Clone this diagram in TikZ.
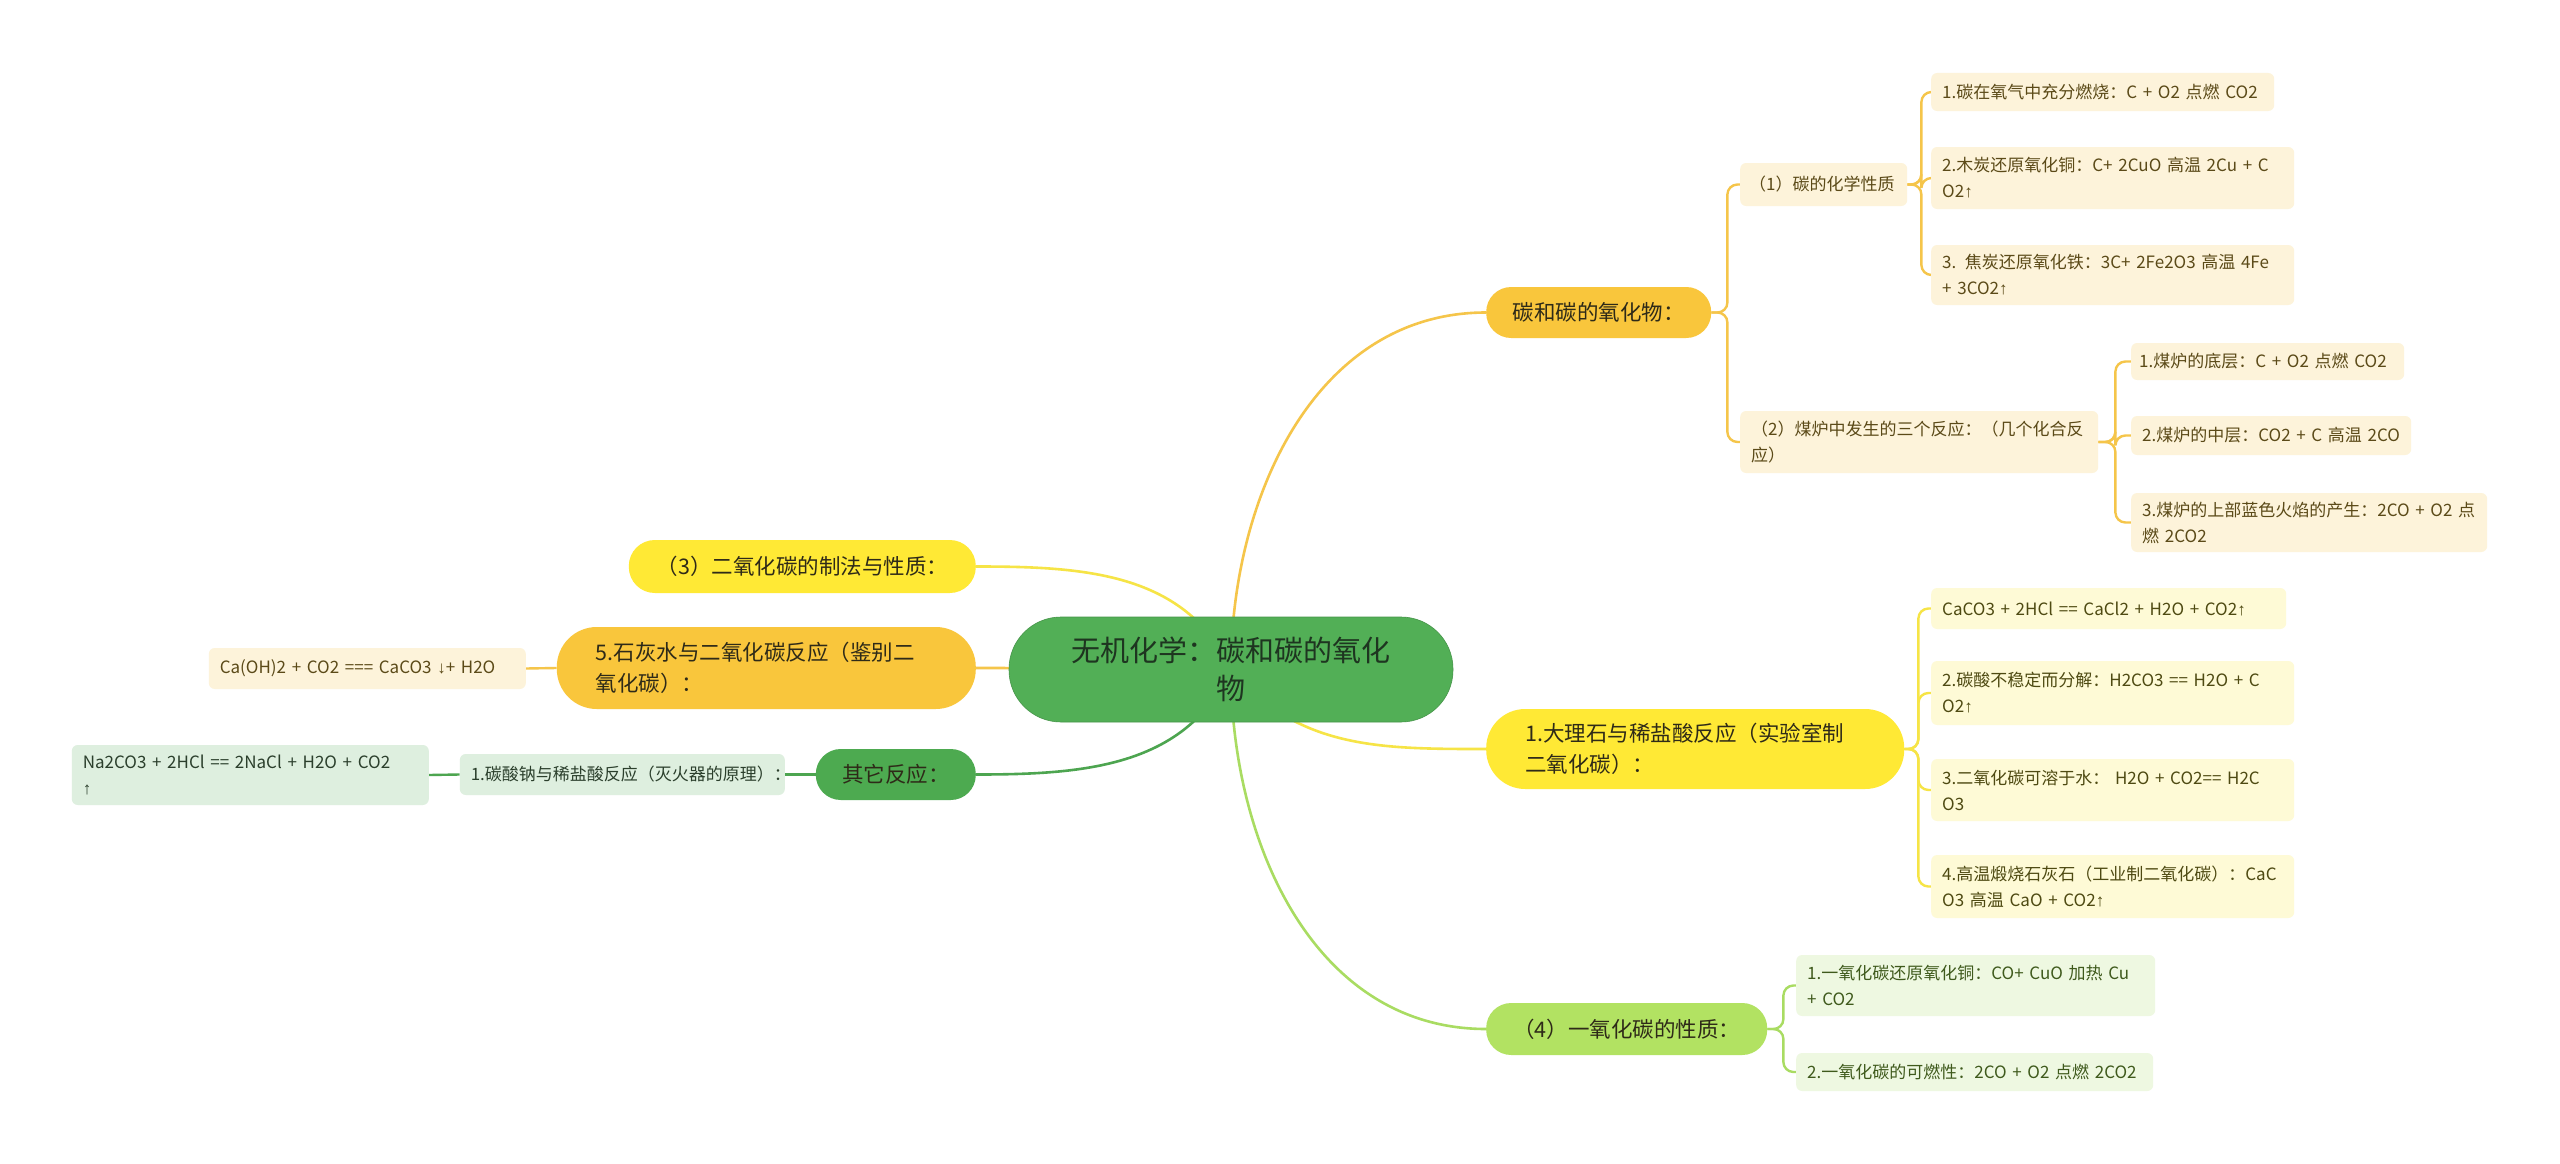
\documentclass[tikz,border=0pt]{standalone}
\usepackage{fontspec}
\setmainfont{Noto Sans CJK SC}
\newfontfamily\arrfont{Liberation Sans}
\newcommand{\upar}{{\arrfont ↑}}
\newcommand{\dnar}{{\arrfont ↓}}
\usetikzlibrary{backgrounds}
\definecolor{cOr}{HTML}{F9C63C}
\definecolor{lOr}{HTML}{F5C54A}
\definecolor{fOr}{HTML}{FDF3DA}
\definecolor{tOr}{HTML}{5B4A18}
\definecolor{cYe}{HTML}{FFE935}
\definecolor{lYe}{HTML}{F6E446}
\definecolor{fYe}{HTML}{FEFAD6}
\definecolor{tYe}{HTML}{4E4A12}
\definecolor{cLg}{HTML}{B2E262}
\definecolor{lLg}{HTML}{A9DC62}
\definecolor{fLg}{HTML}{EEF8E1}
\definecolor{tLg}{HTML}{3F5A1C}
\definecolor{cDg}{HTML}{4DAA50}
\definecolor{lDg}{HTML}{4DA550}
\definecolor{fDg}{HTML}{DEEFDF}
\definecolor{tDg}{HTML}{2B3F2C}
\definecolor{cCe}{HTML}{52AF56}
\definecolor{tCe}{HTML}{1E3520}
\definecolor{tMain}{HTML}{2E2A18}
\begin{document}
\begin{tikzpicture}[x=1pt,y=-1pt,
  centre/.style={fill=cCe, draw=cCe!85!black, line width=0.6pt, text=tCe, rounded corners=52pt, inner xsep=20pt, inner ysep=0pt, align=center, font=\fontsize{29}{38}\selectfont},
  pill/.style={inner ysep=0pt, text=tMain, font=\fontsize{21.5}{31}\selectfont},
  pO/.style={pill, fill=cOr},
  pY/.style={pill, fill=cYe},
  pL/.style={pill, fill=cLg},
  pD/.style={pill, fill=cDg},
  leaf/.style={rounded corners=6pt, inner xsep=11pt, inner ysep=0pt, align=left, font=\fontsize{17}{26}\selectfont},
  lO/.style={leaf, fill=fOr, text=tOr},
  lY/.style={leaf, fill=fYe, text=tYe},
  lL/.style={leaf, fill=fLg, text=tLg},
  lD/.style={leaf, fill=fDg, text=tDg},
  link/.style={line width=2.6pt},
  brk/.style={line width=2.4pt, rounded corners=10pt},
]
\useasboundingbox (0,0) rectangle (2560,1164);

% centre
\node[centre, minimum width=444pt, minimum height=105pt, text width=404pt] (C) at (1231,669.5) {无机化学：碳和碳的氧化\\物};

% right main branches
\node[pO, anchor=west, minimum width=225pt, minimum height=51pt, text width=205pt, inner xsep=10pt, rounded corners=25pt, align=center] (K1) at (1486,312.5) {碳和碳的氧化物：};
\node[pY, anchor=west, minimum width=418pt, minimum height=80pt, text width=340pt, inner xsep=39pt, rounded corners=39pt, align=left] (K2) at (1486,749) {1.大理石与稀盐酸反应（实验室制\\二氧化碳）：};
\node[pL, anchor=west, minimum width=281pt, minimum height=52pt, text width=261pt, inner xsep=10pt, rounded corners=25pt, align=center] (K3) at (1486,1029) {（4）一氧化碳的性质：};

% left main branches
\node[pY, anchor=east, minimum width=347pt, minimum height=53pt, text width=327pt, inner xsep=10pt, rounded corners=26pt, align=center] (L1) at (976,566.5) {（3）二氧化碳的制法与性质：};
\node[pO, anchor=east, minimum width=419pt, minimum height=82pt, text width=341pt, inner xsep=39pt, rounded corners=40pt, align=left] (L2) at (976,668) {5.石灰水与二氧化碳反应（鉴别二\\氧化碳）：};
\node[pD, anchor=east, minimum width=160pt, minimum height=51pt, text width=140pt, inner xsep=10pt, rounded corners=25pt, align=center] (L3) at (976,774.5) {其它反应：};

% K1 subtree
\node[lO, anchor=west, minimum width=167pt, minimum height=43pt, text width=149pt, inner xsep=9pt] (A1) at (1740,184.5) {（1）碳的化学性质};
\node[lO, anchor=west, minimum width=343pt, minimum height=38pt, text width=321pt] (a11) at (1931,92) {1.碳在氧气中充分燃烧：C + O2 点燃 CO2};
\node[lO, anchor=west, minimum width=363pt, minimum height=62pt, text width=341pt] (a12) at (1931,178) {2.木炭还原氧化铜：C+ 2CuO 高温 2Cu + C\\O2\upar};
\node[lO, anchor=west, minimum width=363pt, minimum height=60pt, text width=341pt] (a13) at (1931,275) {3. 焦炭还原氧化铁：3C+ 2Fe2O3 高温 4Fe\\+ 3CO2\upar};
\node[lO, anchor=west, minimum width=358pt, minimum height=62pt, text width=336pt] (A2) at (1740,442) {（2）煤炉中发生的三个反应：（几个化合反\\应）};
\node[lO, anchor=west, minimum width=273pt, minimum height=37pt, text width=257pt, inner xsep=8pt] (a21) at (2131,361.5) {1.煤炉的底层：C + O2 点燃 CO2};
\node[lO, anchor=west, minimum width=280pt, minimum height=39pt, text width=258pt] (a22) at (2131,435.5) {2.煤炉的中层：CO2 + C 高温 2CO};
\node[lO, anchor=west, minimum width=356pt, minimum height=59pt, text width=334pt] (a23) at (2131,522.5) {3.煤炉的上部蓝色火焰的产生：2CO + O2 点\\燃 2CO2};

% K2 subtree
\node[lY, anchor=west, minimum width=355pt, minimum height=41pt, text width=333pt] (b1) at (1931,608.5) {CaCO3 + 2HCl == CaCl2 + H2O + CO2\upar};
\node[lY, anchor=west, minimum width=363pt, minimum height=64pt, text width=341pt] (b2) at (1931,693) {2.碳酸不稳定而分解：H2CO3 == H2O + C\\O2\upar};
\node[lY, anchor=west, minimum width=363pt, minimum height=62pt, text width=341pt] (b3) at (1931,790) {3.二氧化碳可溶于水： H2O + CO2== H2C\\O3};
\node[lY, anchor=west, minimum width=363pt, minimum height=63pt, text width=341pt] (b4) at (1931,886.5) {4.高温煅烧石灰石（工业制二氧化碳）：CaC\\O3 高温 CaO + CO2\upar};

% K3 subtree
\node[lL, anchor=west, minimum width=359pt, minimum height=61pt, text width=337pt] (c1) at (1796,985.5) {1.一氧化碳还原氧化铜：CO+ CuO 加热 Cu\\+ CO2};
\node[lL, anchor=west, minimum width=357pt, minimum height=38pt, text width=335pt] (c2) at (1796,1072) {2.一氧化碳的可燃性：2CO + O2 点燃 2CO2};

% left leaves
\node[lO, anchor=east, minimum width=317pt, minimum height=41pt, text width=295pt] (l2a) at (526,668.5) {Ca(OH)2 + CO2 === CaCO3 \dnar+ H2O};
\node[lD, anchor=east, minimum width=325pt, minimum height=41pt, text width=303pt] (l3a) at (785,774.5) {1.碳酸钠与稀盐酸反应（灭火器的原理）：};
\node[lD, anchor=east, minimum width=357pt, minimum height=60pt, text width=335pt] (l3b) at (429,775) {Na2CO3 + 2HCl == 2NaCl + H2O + CO2\\\upar};

\begin{scope}[on background layer]
\fill[white] (0,0) rectangle (2560,1164);
% main curves
\draw[link, lOr] (C.center) to[out=90, in=180] (K1.west);
\draw[link, lYe] (C.center) to[out=-50, in=180] (K2.west);
\draw[link, lLg] (C.center) to[out=-90, in=180] (K3.west);
\draw[link, lYe] (C.center) to[out=115, in=0] (L1.east);
\draw[link, lOr] (C.center) to[out=180, in=0] (L2.east);
\draw[link, lDg] (C.center) to[out=-115, in=0] (L3.east);
% brackets
\draw[brk, lOr] (K1.east) -- ++(16,0) |- (A1.west);
\draw[brk, lOr] (K1.east) -- ++(16,0) |- (A2.west);
\draw[brk, lOr] (A1.east) -- ++(14,0) |- (a11.west);
\draw[brk, lOr] (A1.east) -- ++(14,0) |- (a12.west);
\draw[brk, lOr] (A1.east) -- ++(14,0) |- (a13.west);
\draw[brk, lOr] (A2.east) -- ++(17,0) |- (a21.west);
\draw[brk, lOr] (A2.east) -- ++(17,0) |- (a22.west);
\draw[brk, lOr] (A2.east) -- ++(17,0) |- (a23.west);
\draw[brk, lYe] (K2.east) -- ++(14,0) |- (b1.west);
\draw[brk, lYe] (K2.east) -- ++(14,0) |- (b2.west);
\draw[brk, lYe] (K2.east) -- ++(14,0) |- (b3.west);
\draw[brk, lYe] (K2.east) -- ++(14,0) |- (b4.west);
\draw[brk, lLg] (K3.east) -- ++(16,0) |- (c1.west);
\draw[brk, lLg] (K3.east) -- ++(16,0) |- (c2.west);
\draw[brk, lOr] (L2.west) -- (l2a.east);
\draw[brk, lDg] (L3.west) -- (l3a.east);
\draw[brk, lDg] (l3a.west) -- (l3b.east);
\end{scope}
\end{tikzpicture}
\end{document}
